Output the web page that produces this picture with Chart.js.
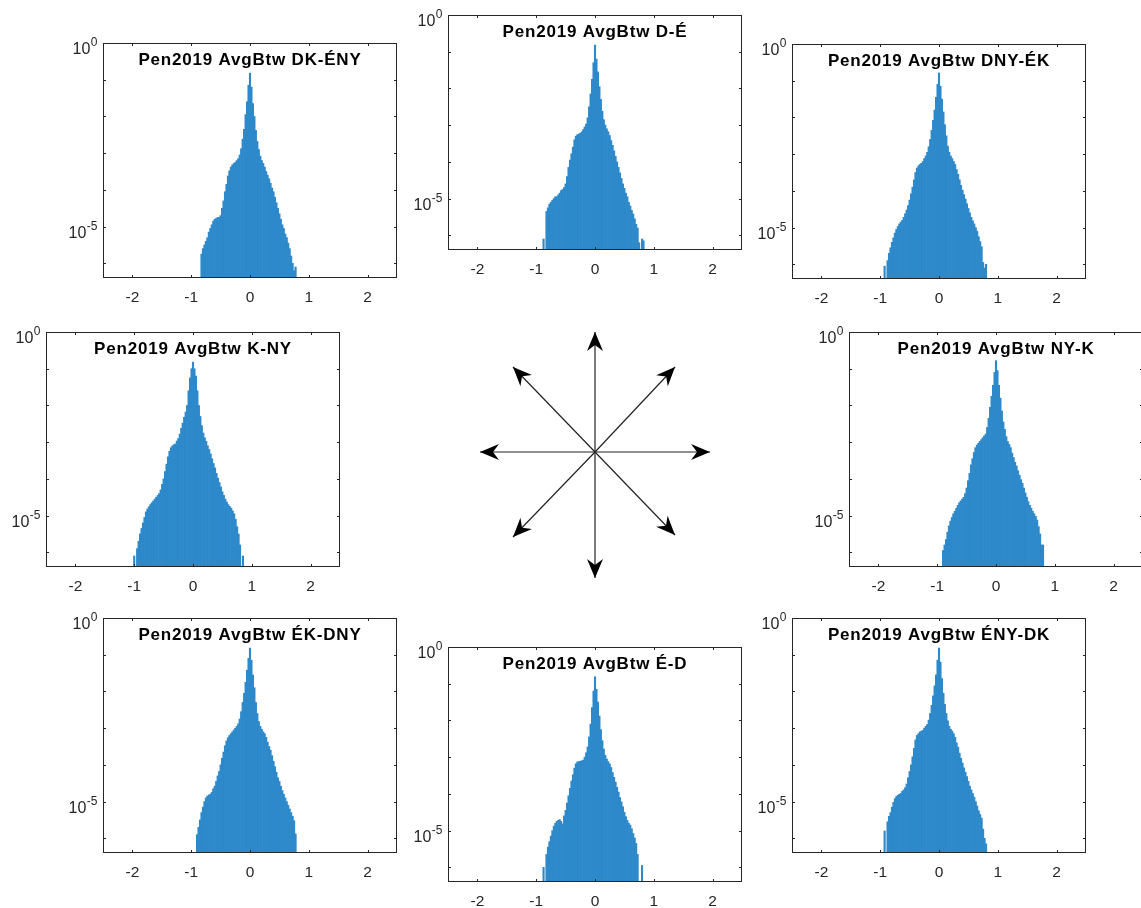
<!DOCTYPE html>
<html>
<head>
<meta charset="utf-8">
<script src="https://cdn.jsdelivr.net/npm/chart.js@4.4.1/dist/chart.umd.min.js"></script>
<style>
  html, body { margin: 0; padding: 0; background: #fff; overflow: hidden; }
  #wrap { position: relative; width: 1141px; height: 908px; overflow: hidden; }
  #wrap canvas { position: absolute; }
</style>
</head>
<body>
<div id="wrap"></div>
<script>
// bin centres (bin width 0.025) shared by all eight histograms
const binCenters = [
  -1, -0.975, -0.95, -0.925, -0.9, -0.875, -0.85, -0.825, -0.8, -0.775,
  -0.75, -0.725, -0.7, -0.675, -0.65, -0.625, -0.6, -0.575, -0.55, -0.525,
  -0.5, -0.475, -0.45, -0.425, -0.4, -0.375, -0.35, -0.325, -0.3, -0.275,
  -0.25, -0.225, -0.2, -0.175, -0.15, -0.125, -0.1, -0.075, -0.05, -0.025,
  0, 0.025, 0.05, 0.075, 0.1, 0.125, 0.15, 0.175, 0.2, 0.225,
  0.25, 0.275, 0.3, 0.325, 0.35, 0.375, 0.4, 0.425, 0.45, 0.475,
  0.5, 0.525, 0.55, 0.575, 0.6, 0.625, 0.65, 0.675, 0.7, 0.725,
  0.75, 0.775, 0.8, 0.825, 0.85, 0.875
];

// log10 of the bin heights (null = empty bin)
const dkEny = [
  null, null, null, null, null, null, null, -5.75, -5.6, -5.5,
  -5.4, -5.3, -5.15, -5.05, -4.95, -4.85, -4.8, -4.78, -4.75, -4.75,
  -4.7, -4.5, -4.3, -4.05, -3.85, -3.62, -3.48, -3.38, -3.32, -3.28,
  -3.25, -3.2, -3.15, -3.05, -2.88, -2.62, -2.35, -1.95, -1.6, -1.15,
  -0.82, -1.2, -1.65, -2.0, -2.38, -2.68, -2.9, -3.08, -3.2, -3.28,
  -3.38, -3.5, -3.6, -3.7, -3.82, -3.95, -4.05, -4.2, -4.35, -4.5,
  -4.65, -4.8, -4.95, -5.05, -5.2, -5.3, -5.45, -5.6, -5.8, -6.0,
  -6.2, -6.1, null, null, null, null
];
const dE = [
  null, null, null, null, null, -6.1, null, -5.35, -5.25, -5.15,
  -5.1, -5.05, -5.0, -4.95, -4.95, -4.9, -4.85, -4.78, -4.75, -4.7,
  -4.6, -4.4, -4.15, -3.95, -3.78, -3.6, -3.4, -3.3, -3.26, -3.24,
  -3.22, -3.18, -3.12, -3.05, -2.97, -2.8, -2.5, -2.15, -1.75, -1.3,
  -0.82, -1.2, -1.55, -1.95, -2.3, -2.62, -2.85, -3.0, -3.1, -3.18,
  -3.28, -3.42, -3.55, -3.7, -3.85, -4.0, -4.15, -4.3, -4.45, -4.6,
  -4.72, -4.85, -4.95, -5.1, -5.2, -5.32, -5.42, -5.55, -5.7, -5.8,
  -6.2, null, -6.1, -6.15, null, null
];
const dnyEk = [
  null, null, null, -6.05, null, -5.9, -5.7, -5.55, -5.4, -5.28,
  -5.15, -5.05, -4.97, -4.9, -4.85, -4.8, -4.72, -4.62, -4.52, -4.4,
  -4.25, -4.08, -3.9, -3.7, -3.5, -3.38, -3.32, -3.28, -3.25, -3.2,
  -3.12, -3.05, -2.95, -2.8, -2.6, -2.35, -2.08, -1.8, -1.45, -1.1,
  -0.79, -1.15, -1.5, -1.85, -2.2, -2.5, -2.78, -2.95, -3.05, -3.12,
  -3.2, -3.28, -3.42, -3.55, -3.7, -3.85, -3.98, -4.1, -4.22, -4.35,
  -4.48, -4.6, -4.72, -4.82, -4.9, -5.0, -5.1, -5.25, -5.38, -5.52,
  -5.95, -6.1, -6.0, null, null, null
];
const kNy = [
  -6.1, null, -5.9, -5.7, -5.5, -5.35, -5.2, -5.05, -4.9, -4.82,
  -4.76, -4.7, -4.65, -4.6, -4.55, -4.5, -4.45, -4.4, -4.3, -4.15,
  -4.0, -3.8, -3.6, -3.4, -3.25, -3.15, -3.1, -3.07, -3.05, -2.97,
  -2.9, -2.78, -2.62, -2.48, -2.32, -2.18, -2.0, -1.6, -1.25, -1.0,
  -0.82, -1.0, -1.2, -1.6, -2.0, -2.3, -2.55, -2.75, -2.88, -2.98,
  -3.1, -3.2, -3.32, -3.45, -3.58, -3.7, -3.85, -3.98, -4.1, -4.22,
  -4.35, -4.45, -4.55, -4.63, -4.7, -4.75, -4.8, -4.87, -4.95, -5.1,
  -5.3, -5.5, -5.8, null, -6.1, null
];
const nyK = [
  null, null, null, null, -5.95, -5.8, -5.65, -5.45, -5.28, -5.15,
  -5.05, -4.95, -4.88, -4.8, -4.72, -4.65, -4.6, -4.55, -4.5, -4.4,
  -4.25, -4.05, -3.85, -3.62, -3.45, -3.28, -3.15, -3.08, -3.03, -2.98,
  -2.93, -2.88, -2.83, -2.78, -2.6, -2.35, -2.05, -1.75, -1.45, -1.1,
  -0.78, -1.05, -1.45, -1.8, -2.15, -2.45, -2.65, -2.85, -2.98, -3.06,
  -3.15, -3.3, -3.42, -3.55, -3.65, -3.78, -3.9, -4.02, -4.12, -4.25,
  -4.38, -4.5, -4.62, -4.72, -4.8, -4.88, -4.95, -5.02, -5.12, -5.3,
  -5.5, -5.8, -5.8, null, null, null
];
const ekDny = [
  null, null, null, null, -5.9, -5.7, -5.5, -5.3, -5.15, -5.0,
  -4.9, -4.85, -4.82, -4.8, -4.75, -4.65, -4.58, -4.45, -4.3, -4.18,
  -4.0, -3.82, -3.65, -3.48, -3.35, -3.26, -3.2, -3.15, -3.1, -3.05,
  -3.0, -2.95, -2.88, -2.75, -2.55, -2.3, -2.05, -1.75, -1.42, -1.1,
  -0.82, -1.15, -1.55, -1.9, -2.3, -2.6, -2.82, -2.95, -3.03, -3.1,
  -3.15, -3.25, -3.38, -3.5, -3.6, -3.75, -3.9, -4.05, -4.2, -4.35,
  -4.45, -4.58, -4.7, -4.8, -4.9, -5.0, -5.1, -5.2, -5.3, -5.4,
  -5.52, -5.88, null, null, null, null
];
const eD = [
  null, null, null, null, null, -6.0, null, -5.65, -5.45, -5.3,
  -5.15, -5.0, -4.88, -4.8, -4.75, -4.72, -4.7, -4.75, -4.82, -4.6,
  -4.45, -4.25, -4.05, -3.85, -3.65, -3.48, -3.3, -3.18, -3.13, -3.12,
  -3.11, -3.1, -3.08, -3.0, -2.88, -2.72, -2.45, -2.1, -1.65, -1.2,
  -0.81, -1.15, -1.5, -1.88, -2.25, -2.55, -2.78, -2.95, -3.05, -3.12,
  -3.18, -3.28, -3.42, -3.55, -3.68, -3.82, -3.95, -4.1, -4.22, -4.35,
  -4.5, -4.62, -4.72, -4.8, -4.85, -4.95, -5.08, -5.2, -5.35, -5.65,
  null, null, -5.95, null, null, null
];
const enyDk = [
  null, null, null, -5.8, null, -5.55, -5.4, -5.3, -5.15, -5.02,
  -4.92, -4.86, -4.83, -4.8, -4.78, -4.72, -4.68, -4.62, -4.52, -4.35,
  -4.18, -4.0, -3.78, -3.55, -3.32, -3.2, -3.15, -3.1, -3.08, -3.06,
  -3.0, -2.95, -2.9, -2.78, -2.6, -2.38, -2.12, -1.85, -1.55, -1.15,
  -0.82, -1.2, -1.65, -2.05, -2.35, -2.6, -2.8, -2.95, -3.03, -3.08,
  -3.15, -3.25, -3.4, -3.52, -3.68, -3.82, -3.95, -4.08, -4.2, -4.32,
  -4.45, -4.58, -4.68, -4.78, -4.88, -5.0, -5.12, -5.25, -5.35, -5.45,
  -5.75, -6.0, -6.15, null, null, null
];

const panelTitles = [
  "Pen2019 AvgBtw DK-ÉNY", "Pen2019 AvgBtw D-É", "Pen2019 AvgBtw DNY-ÉK",
  "Pen2019 AvgBtw K-NY", "Pen2019 AvgBtw NY-K",
  "Pen2019 AvgBtw ÉK-DNY", "Pen2019 AvgBtw É-D", "Pen2019 AvgBtw ÉNY-DK"
];
const panelSeries = [dkEny, dE, dnyEk, kNy, nyK, ekDny, eD, enyDk];

const xTickValues = [-2, -1, 0, 1, 2];
const yTickExponents = [0, -1, -2, -3, -4, -5, -6];
const yLabelExponents = [0, -5];
const yMinExp = -6.4;

// compass arrows, offsets from the centre (pixels, y up)
const arrowDx = [0, 80, 115, 80, 0, -82, -115, -82];
const arrowDy = [120, 85, 0, -83, -126, -85, 0, 85];

// layout: top-left corner of each plot box on the page
const panelBoxes = [
  [103, 43], [448, 15], [792, 44],
  [46, 332], [849, 332],
  [103, 618], [448, 647], [792, 618]
];
const BOX_W = 294, BOX_H = 235;
const PAD_L = 60, PAD_T = 10, PAD_R = 10, PAD_B = 35;

const axisColor = "#262626";
const barColor = "rgb(45, 137, 202)";
const fontFamily = "'Liberation Sans', Arial, sans-serif";
const TICK_LEN = 3;

Chart.defaults.font.family = fontFamily;
Chart.defaults.color = axisColor;

const wrap = document.getElementById("wrap");

function makeCanvas(left, top, w, h) {
  const c = document.createElement("canvas");
  c.width = w;
  c.height = h;
  c.style.left = left + "px";
  c.style.top = top + "px";
  c.style.width = w + "px";
  c.style.height = h + "px";
  wrap.appendChild(c);
  return c;
}

const panelDecor = {
  id: "panelDecor",
  afterDraw(chart, args, opts) {
    const { ctx, chartArea: a, scales } = chart;
    const xs = scales.x, ys = scales.y;
    ctx.save();
    ctx.strokeStyle = axisColor;
    ctx.lineWidth = 1;
    ctx.beginPath();
    xTickValues.forEach(v => {
      const px = Math.round(xs.getPixelForValue(v)) + 0.5;
      ctx.moveTo(px, a.bottom);
      ctx.lineTo(px, a.bottom - TICK_LEN);
      ctx.moveTo(px, a.top);
      ctx.lineTo(px, a.top + TICK_LEN);
    });
    yTickExponents.forEach(e => {
      const py = Math.round(ys.getPixelForValue(Math.pow(10, e))) + 0.5;
      ctx.moveTo(a.left, py);
      ctx.lineTo(a.left + TICK_LEN, py);
      ctx.moveTo(a.right, py);
      ctx.lineTo(a.right - TICK_LEN, py);
    });
    ctx.stroke();
    ctx.strokeRect(a.left + 0.5, a.top + 0.5, a.right - a.left - 1, a.bottom - a.top - 1);

    // y labels 10^e
    ctx.fillStyle = axisColor;
    ctx.textBaseline = "alphabetic";
    ctx.textAlign = "left";
    yLabelExponents.forEach(e => {
      const py = ys.getPixelForValue(Math.pow(10, e));
      const sup = String(e);
      ctx.font = "12px " + fontFamily;
      const wSup = ctx.measureText(sup).width;
      ctx.font = "16px " + fontFamily;
      const wBase = ctx.measureText("10").width;
      const x0 = a.left - 6 - wSup - wBase;
      ctx.fillText("10", x0, py + 11);
      ctx.font = "12px " + fontFamily;
      ctx.fillText(sup, x0 + wBase + 0.5, py + 3.3);
    });

    // title inside the box
    ctx.fillStyle = "#000";
    ctx.font = "bold 17px " + fontFamily;
    ctx.letterSpacing = "0.8px";
    ctx.textAlign = "center";
    ctx.fillText(opts.title, (a.left + a.right) / 2, a.top + 22);
    ctx.restore();
  }
};

panelSeries.forEach((vals, i) => {
  const [bx, by] = panelBoxes[i];
  const w = PAD_L + BOX_W + PAD_R;
  const h = PAD_T + BOX_H + PAD_B;
  const canvas = makeCanvas(bx - PAD_L, by - PAD_T, w, h);
  const points = binCenters.map((c, k) => ({
    x: c,
    y: vals[k] === null ? null : Math.pow(10, vals[k])
  }));
  new Chart(canvas.getContext("2d"), {
    type: "bar",
    data: {
      datasets: [{
        data: points,
        backgroundColor: barColor,
        borderWidth: 0,
        barPercentage: 1,
        categoryPercentage: 1
      }]
    },
    options: {
      responsive: false,
      animation: false,
      devicePixelRatio: 1,
      layout: { padding: { left: 0, top: PAD_T, right: PAD_R, bottom: 0 } },
      plugins: {
        legend: { display: false },
        tooltip: { enabled: false },
        panelDecor: { title: panelTitles[i] }
      },
      scales: {
        x: {
          type: "linear",
          min: -2.5,
          max: 2.5,
          offset: false,
          afterBuildTicks: s => { s.ticks = xTickValues.map(v => ({ value: v })); },
          afterFit: s => { s.height = PAD_B; },
          grid: { display: false, drawTicks: false, offset: false },
          border: { display: false },
          ticks: { color: axisColor, font: { size: 15.5 }, padding: 10, maxRotation: 0, autoSkip: false }
        },
        y: {
          type: "logarithmic",
          min: Math.pow(10, yMinExp),
          max: 1,
          afterBuildTicks: s => { s.ticks = yTickExponents.map(e => ({ value: Math.pow(10, e) })); },
          afterFit: s => { s.width = PAD_L; },
          grid: { display: false, drawTicks: false },
          border: { display: false },
          ticks: { display: false }
        }
      }
    },
    plugins: [panelDecor]
  });
});

// compass in the middle
const arrowHeads = {
  id: "arrowHeads",
  afterDatasetsDraw(chart) {
    const { ctx, scales } = chart;
    const cx = scales.x.getPixelForValue(0), cy = scales.y.getPixelForValue(0);
    ctx.save();
    ctx.fillStyle = "#000";
    arrowDx.forEach((dx, i) => {
      const tx = scales.x.getPixelForValue(dx);
      const ty = scales.y.getPixelForValue(arrowDy[i]);
      const len = Math.hypot(tx - cx, ty - cy);
      const ux = (tx - cx) / len, uy = (ty - cy) / len;
      const nx = -uy, ny = ux;
      const L = 19, W = 8, notch = 13;
      ctx.beginPath();
      ctx.moveTo(tx, ty);
      ctx.lineTo(tx - L * ux + W * nx, ty - L * uy + W * ny);
      ctx.lineTo(tx - notch * ux, ty - notch * uy);
      ctx.lineTo(tx - L * ux - W * nx, ty - L * uy - W * ny);
      ctx.closePath();
      ctx.fill();
    });
    ctx.restore();
  }
};

const compassCanvas = makeCanvas(470, 317, 250, 270);
new Chart(compassCanvas.getContext("2d"), {
  type: "scatter",
  data: {
    datasets: arrowDx.map((dx, i) => ({
      data: [{ x: 0, y: 0 }, { x: dx, y: arrowDy[i] }],
      showLine: true,
      borderColor: "#222",
      borderWidth: 1.2,
      pointRadius: 0
    }))
  },
  options: {
    responsive: false,
    animation: false,
    devicePixelRatio: 1,
    layout: { padding: 0 },
    plugins: { legend: { display: false }, tooltip: { enabled: false } },
    scales: {
      x: { type: "linear", min: -125, max: 125, display: false },
      y: { type: "linear", min: -135, max: 135, display: false }
    }
  },
  plugins: [arrowHeads]
});
</script>
</body>
</html>
